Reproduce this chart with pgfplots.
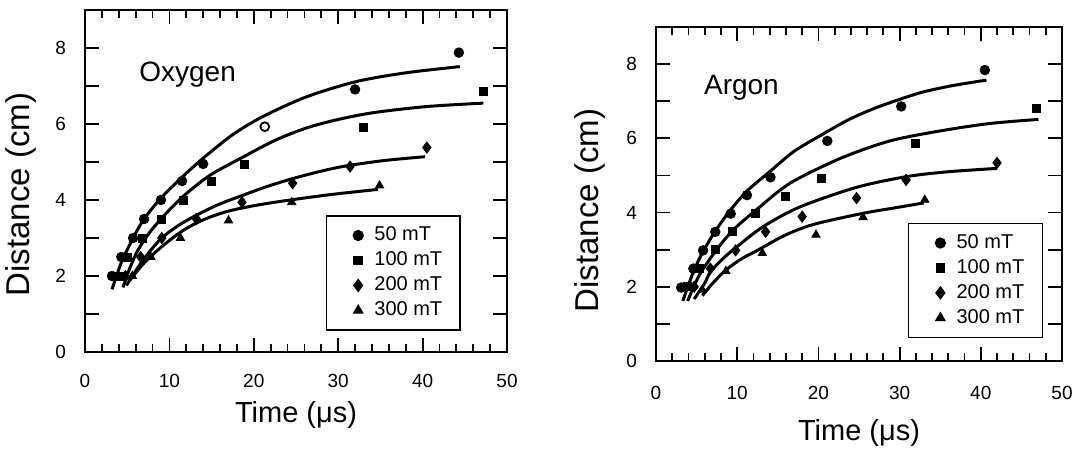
\documentclass[border=0pt]{standalone}
\usepackage{fontspec}
\setmainfont{Liberation Sans}
\usepackage{pgfplots}
\pgfplotsset{compat=1.18}

\pgfplotsset{
  fieldplot/.style={
    scale only axis,
    xmin=0, xmax=50, ymin=0, ymax=9,
    xtick={0,10,...,50}, minor x tick num=4,
    ytick={0,2,...,8},
    extra y ticks={1,3,5,7}, extra y tick labels={},
    major tick length=7pt, minor tick length=4pt,
    tick style={line width=0.9pt, black},
    axis line style={line width=1.1pt},
    /pgf/number format/assume math mode=true,
    ticklabel style={font=\fontsize{9.5}{11}\selectfont},
    xticklabel style={yshift=-7.5pt},
    yticklabel style={xshift=-6pt},
    legend cell align=left,
    legend image code/.code={%
      \path (-0.15cm,0cm) (0.35cm,0cm);
      \draw[##1] plot coordinates {(0.15cm,0cm)};},
    legend style={draw=black, line width=0.8pt,
      font=\fontsize{10}{12}\selectfont,
      inner xsep=7pt, inner ysep=3.5pt, row sep=0pt, anchor=north west},
  },
  fit/.style={smooth, line width=1.5pt, black, forget plot},
  m50/.style={only marks, mark=*, mark size=2.4pt, black},
  m100/.style={only marks, mark=square*, mark size=2.0pt, black},
  m200/.style={only marks, mark=diamond*, mark size=2.8pt, black},
  m300/.style={only marks, mark=triangle*, mark size=2.4pt, black},
}

\begin{document}
\begin{tikzpicture}
\useasboundingbox (0,0) rectangle (537.5pt,225.5pt);

% ---------------- Oxygen ----------------
\begin{axis}[fieldplot,
  at={(42.5pt,49.5pt)}, anchor=south west,
  width=211pt, height=171pt,
  every axis x label/.style={at={(axis description cs:0.5,-0.184)}, anchor=center,
    font=\fontsize{14.5}{16}\selectfont},
  every axis y label/.style={at={(axis description cs:-0.152,0.46)}, rotate=90, anchor=center,
    font=\fontsize{16.5}{18}\selectfont},
  xlabel={Time (μs)}, ylabel={Distance (cm)},
  legend style={at={(0.57,0.40)}},
]
% fitted curves
\addplot[fit] coordinates {(3.2,1.65) (4.3,2.35) (5.7,3.0) (7.0,3.5) (9.0,4.05) (11.5,4.6)
  (14.0,5.1) (17.5,5.72) (21.1,6.2) (26.3,6.72) (32.2,7.12) (38.1,7.35) (44.4,7.51)};
\addplot[fit] coordinates {(4.5,1.7) (5.3,2.2) (6.2,2.65) (7.5,3.1) (9.2,3.55) (11.6,4.09)
  (14.8,4.65) (18.8,5.14) (22.5,5.57) (26.3,5.9) (30.0,6.12) (34.2,6.3) (40.5,6.46) (47.2,6.55)};
\addplot[fit] coordinates {(4.9,1.75) (6.2,2.2) (7.5,2.6) (9.1,3.0) (11.0,3.32) (13.2,3.6)
  (15.8,3.88) (18.4,4.1) (21.5,4.35) (24.7,4.57) (28.0,4.76) (31.0,4.9) (35.5,5.04) (40.3,5.14)};
\addplot[fit] coordinates {(5.3,1.88) (6.7,2.27) (8.2,2.6) (9.8,2.9) (11.3,3.15) (12.8,3.35)
  (14.8,3.55) (17.2,3.72) (20.5,3.87) (24.3,4.0) (29.0,4.14) (34.7,4.28)};
% measurements
\addplot[m50] coordinates {(3.2,2.0) (4.3,2.5) (5.7,3.0) (7.0,3.5) (9.0,4.0) (11.5,4.5) (14.0,4.95)
  (32.0,6.91) (44.3,7.88)};
\addlegendentry{50 mT}
\addplot[m100] coordinates {(4.1,2.0) (5.0,2.5) (6.8,3.0) (9.1,3.5) (11.7,4.0) (15.0,4.5) (18.9,4.95)
  (33.0,5.9) (47.2,6.87)};
\addlegendentry{100 mT}
\addplot[m200] coordinates {(4.8,2.0) (6.6,2.5) (9.1,3.0) (13.2,3.5) (18.6,3.94) (24.6,4.44)
  (31.4,4.88) (40.5,5.38)};
\addlegendentry{200 mT}
\addplot[m300] coordinates {(5.6,2.0) (7.8,2.5) (11.3,3.0) (17.0,3.46) (24.5,3.94) (34.9,4.38)};
\addlegendentry{300 mT}
% the one 50 mT point printed as an open circle
\addplot[only marks, mark=o, mark size=2.2pt, black, mark options={line width=0.9pt}, forget plot]
  coordinates {(21.3,5.93)};
\node[anchor=west, font=\fontsize{14}{16}\selectfont] at (axis cs:5.6,7.3) {Oxygen};
\end{axis}

% ---------------- Argon ----------------
\begin{axis}[fieldplot,
  at={(328pt,45pt)}, anchor=south west,
  width=203pt, height=167pt,
  xticklabel style={yshift=-1.5pt},
  every axis x label/.style={at={(axis description cs:0.5,-0.216)}, anchor=center,
    font=\fontsize{14.5}{16}\selectfont},
  every axis y label/.style={at={(axis description cs:-0.163,0.45)}, rotate=90, anchor=center,
    font=\fontsize{16.5}{18}\selectfont},
  xlabel={Time (μs)}, ylabel={Distance (cm)},
  legend style={at={(0.62,0.414)}},
]
\addplot[fit] coordinates {(3.3,1.62) (4.6,2.4) (5.8,2.95) (7.3,3.5) (9.1,4.05) (11.3,4.6)
  (14.0,5.1) (17.0,5.65) (20.6,6.12) (23.7,6.5) (26.8,6.8) (30.0,7.05) (32.9,7.25) (36.5,7.42) (40.7,7.57)};
\addplot[fit] coordinates {(3.9,1.62) (5.3,2.3) (7.3,2.95) (9.5,3.53) (12.5,4.1) (16.5,4.79)
  (22.7,5.46) (28.8,5.93) (35.0,6.2) (41.1,6.4) (47.1,6.51)};
\addplot[fit] coordinates {(4.7,1.67) (6.0,2.1) (6.7,2.4) (8.2,2.75) (9.8,3.05) (13.2,3.62)
  (17.7,4.15) (24.7,4.68) (30.9,4.97) (36.0,5.1) (42.0,5.19)};
\addplot[fit] coordinates {(5.7,1.76) (7.0,2.1) (8.6,2.45) (10.5,2.75) (12.4,2.97) (15.8,3.38)
  (19.4,3.68) (25.5,3.98) (29.5,4.13) (33.0,4.26)};
\addplot[m50] coordinates {(3.1,1.98) (4.6,2.49) (5.8,2.98) (7.3,3.48) (9.2,3.97) (11.2,4.47)
  (14.1,4.95) (21.1,5.93) (30.2,6.86) (40.5,7.84)};
\addlegendentry{50 mT}
\addplot[m100] coordinates {(3.9,2.0) (5.3,2.49) (7.3,3.0) (9.4,3.48) (12.2,3.97) (15.9,4.43)
  (20.4,4.92) (32.0,5.87) (46.8,6.81)};
\addlegendentry{100 mT}
\addplot[m200] coordinates {(4.7,2.0) (6.7,2.49) (9.8,2.98) (13.5,3.48) (18.0,3.89) (24.7,4.39)
  (30.8,4.88) (42.0,5.34)};
\addlegendentry{200 mT}
\addplot[m300] coordinates {(5.7,1.92) (8.6,2.42) (13.1,2.91) (19.7,3.40) (25.5,3.87) (33.1,4.34)};
\addlegendentry{300 mT}
\node[anchor=west, font=\fontsize{14}{16}\selectfont] at (axis cs:5.05,7.35) {Argon};
\end{axis}
\end{tikzpicture}
\end{document}
